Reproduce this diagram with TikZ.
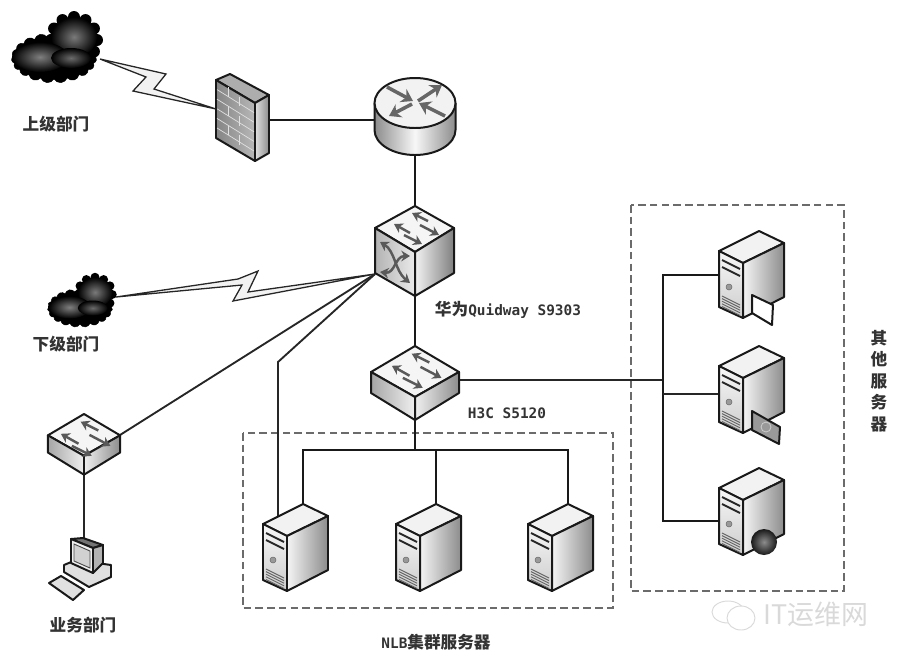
\documentclass[tikz,border=0pt]{standalone}
\usepackage{fontspec}
\setmonofont{DejaVu Sans Mono}
\newfontfamily\cjk{Noto Sans CJK SC}
\newcommand{\lat}[1]{{\ttfamily\fontsize{12.3}{15}\selectfont #1}}
\usetikzlibrary{arrows.meta,shapes.symbols}

\begin{document}
\begin{tikzpicture}[
    x=0.3mm, y=-0.3mm,
    iconbox/.style={rectangle, inner sep=0pt, outer sep=0pt},
    srvbox/.style={iconbox, minimum width=24mm, minimum height=26mm},
    netcloud/.style={cloud, cloud puffs=19, cloud puff arc=130, fill=black, draw=black, inner sep=0pt},
    link/.style={line width=2.4pt, black!90},
    thin link/.style={line width=1.6pt, black!85},
    bolt/.style={draw=black!85, fill=black!5, line width=1.1pt, line join=miter},
    group/.style={draw=black!58, line width=1.8pt, dash pattern=on 6.5pt off 3.5pt},
    lbl/.style={font=\cjk\bfseries\fontsize{14.2}{18.3}\selectfont, text=black!80, inner sep=0pt, align=center},
    edge line/.style={draw=black!90, line width=1.7pt, line join=round},
    swarrow/.style={line width=2.1pt, black!65, -{Stealth[length=2.6mm,width=3.2mm]}},
    rtarrow/.style={line width=3pt, black!60, -{Stealth[length=3.4mm,width=4.4mm]}},
    cloudcore/.pic={
        \foreach \a in {0,30,...,330} {
            \fill[black] ({20+23*cos(\a)},{-18+23*sin(\a)}) circle [radius=6];
        }
        \fill[black] (20,-18) ellipse [x radius=23, y radius=23];
        \shade[inner color=black!52, outer color=black] (20,-21) ellipse [x radius=23, y radius=20];
        \shade[inner color=black!50, outer color=black] (-14,-1) ellipse [x radius=28, y radius=15];
        \shade[inner color=black!58, outer color=black] (17,0) ellipse [x radius=20, y radius=10];
    },
    firewallicon/.pic={
        \path[edge line, fill=black!32] (-26.5,-40) -- (-12.5,-46) -- (26.5,-25) -- (12.5,-17) -- cycle;
        \path[edge line, left color=black!48, right color=black!28] (-26.5,-40) -- (12.5,-17) -- (12.5,41) -- (-26.5,18) -- cycle;
        \path[edge line, left color=black!12, right color=black!45] (12.5,-17) -- (26.5,-25) -- (26.5,33) -- (12.5,41) -- cycle;
        \foreach \c in {1,...,5} {
            \draw[black!12, line width=0.6pt] (-25.5,-40+\c*9.6) -- (11.5,-17+\c*9.6);
        }
        \foreach \c/\u in {0/-14,1/-3,2/-14,3/-3,4/-14,5/-3} {
            \draw[black!12, line width=0.6pt] (\u,-32.9+\c*9.6) -- (\u,-23.3+\c*9.6);
        }
    },
    routericon/.pic={
        \path[edge line, left color=black!45, right color=black!45, middle color=black!3] (-40.5,-17) -- (-40.5,10) .. controls (-40.5,24) and (-22,35) .. (0,35) .. controls (22,35) and (40.5,24) .. (40.5,10) -- (40.5,-17) -- cycle;
        \draw[edge line, fill=black!5] (0,-17) ellipse [x radius=40.5, y radius=25];
        \draw[rtarrow] (-28,-33) -- (-2,-19);
        \draw[rtarrow] (3,-19) -- (27,-35);
        \draw[rtarrow] (-3,-16) -- (-26,-4);
        \draw[rtarrow] (30,-4) -- (4,-17);
    },
    topflows/.pic={
        \draw[swarrow] (13,15) -- (-3,7);
        \draw[swarrow] (-5,27) -- (-21,18);
        \draw[swarrow] (5,19) -- (24,29);
        \draw[swarrow] (-11,29) -- (7,38);
    },
    coreicon/.pic={
        \path[edge line, fill=black!4] (0,0) -- (39,22) -- (0,46) -- (-40,22) -- cycle;
        \path[edge line, left color=black!30, right color=black!8] (-40,22) -- (0,46) -- (0,90) -- (-40,67) -- cycle;
        \path[edge line, left color=black!5, right color=black!50] (0,46) -- (39,22) -- (39,67) -- (0,90) -- cycle;
        \pic {topflows};
        \draw[swarrow, {Stealth[length=2.6mm,width=3.2mm]}-{Stealth[length=2.6mm,width=3.2mm]}] (-35,36) .. controls (-20,45) and (-20,65) .. (-5,77);
        \draw[swarrow, {Stealth[length=2.6mm,width=3.2mm]}-{Stealth[length=2.6mm,width=3.2mm]}] (-35,66) .. controls (-20,68) and (-20,50) .. (-5,50);
    },
    flaticon/.pic={
        \path[edge line, fill=black!4] (0,0) -- (44,26) -- (0,51) -- (-44,26) -- cycle;
        \path[edge line, left color=black!35, right color=black!6] (-44,26) -- (0,51) -- (0,74) -- (-44,47) -- cycle;
        \path[edge line, left color=black!6, right color=black!45] (0,51) -- (44,26) -- (44,47) -- (0,74) -- cycle;
        \pic[scale=1.1] {topflows};
    },
    servericon/.pic={
        \path[edge line, fill=black!5] (0,0) -- (25,12) -- (-16,32) -- (-40,20) -- cycle;
        \path[edge line, top color=black!3, bottom color=black!20] (-40,20) -- (-16,32) -- (-16,87) -- (-40,76) -- cycle;
        \path[edge line, left color=black!4, right color=black!45] (-16,32) -- (25,12) -- (25,66) -- (-16,87) -- cycle;
        \draw[black!85, line width=1.6pt] (-37,29) -- (-19,38);
        \draw[black!85, line width=1.6pt] (-37,36) -- (-19,45);
        \draw[black!60, fill=black!40] (-30,56) circle [radius=3];
        \foreach \c in {0,...,4} {
            \draw[black!60, line width=0.8pt] (-37,65+\c*2.6) -- (-19,74+\c*2.6);
        }
    },
    pcicon/.pic={
        \path[edge line, fill=black!12] (-35,13) -- (-23,6) -- (0,20) -- (-11,30) -- cycle;
        \path[edge line, fill=black!12] (-20,-5) -- (-8,-10) -- (27,-5) -- (27,7) -- (5,17) -- (-20,2) -- cycle;
        \path[edge line, fill=black!55] (-13,-31) -- (-1,-32) -- (19,-25) -- (9,-22) -- cycle;
        \path[edge line, fill=black!30] (9,-22) -- (19,-25) -- (19,-7) -- (9,3) -- cycle;
        \path[edge line, fill=black!6] (-13,-31) -- (9,-22) -- (9,3) -- (-13,-7) -- cycle;
        \path[draw=black!70, fill=black!18, line width=0.8pt] (-10,-26) -- (6,-19) -- (6,-2) -- (-10,-9) -- cycle;
    }
]
\useasboundingbox (0,0) rectangle (900,659);

\node[netcloud, minimum width=25.5mm, minimum height=15mm] (upcloud) at (54,58) {};
\node[netcloud, minimum width=19.5mm, minimum height=11.5mm] (downcloud) at (80,308) {};
\node[iconbox, minimum width=15.9mm, minimum height=24mm] (firewall) at (242.5,120) {};
\node[iconbox, minimum width=24.3mm, minimum height=21mm] (router) at (415,120) {};
\node[iconbox, minimum width=24mm, minimum height=27mm] (core) at (415,251) {};
\node[iconbox, minimum width=26.4mm, minimum height=22.2mm] (access) at (415,383) {};
\node[iconbox, minimum width=21.6mm, minimum height=18.3mm] (deptsw) at (84,444.5) {};
\node[iconbox, minimum width=18mm, minimum height=19.2mm] (deptpc) at (84,570) {};
\node[srvbox, anchor=north] (nlbA) at (303,504) {};
\node[srvbox, anchor=north] (nlbB) at (436,504) {};
\node[srvbox, anchor=north] (nlbC) at (568,504) {};
\node[srvbox, anchor=north] (srvA) at (759,231) {};
\node[srvbox, anchor=north] (srvB) at (759,346) {};
\node[srvbox, anchor=north] (srvC) at (759,468) {};

\coordinate (upport) at (100,59);
\coordinate (fwport) at (216,109);
\coordinate (downport) at (116,297);
\coordinate (coreport) at (375,274);
\coordinate (deptport) at (120,435);
\coordinate (fanbend) at (278,362);
\coordinate (nlbport) at (278,517);
\coordinate (nlbbus) at (415,450);
\coordinate (srvbus) at (663,380);
\coordinate (busA) at (663,275);
\coordinate (busB) at (663,394);
\coordinate (busC) at (663,521);

% dashed groups
\draw[group] (243,433) rectangle (613,608);
\draw[group] (631,205) rectangle (844,591);

% links
\draw[bolt] (upport) -- (166,74) -- (154,89) -- (fwport) -- (133,91) -- (146,77) -- cycle;
\draw[bolt] (downport) -- (238,279) -- (258,271) -- (248,292) -- (coreport) -- (233,301) -- (242,285) -- cycle;
\draw[link] (firewall) -- (router);
\draw[link] (router.south) -- (core.north);
\draw[link] (core.south) -- (access.north);
\draw[link] (access.south) -- (nlbbus);
\draw[link] (nlbA.north) |- (nlbbus);
\draw[link] (nlbC.north) |- (nlbbus);
\draw[link] (nlbB.north) -- (nlbB.north |- nlbbus);
\draw[thin link] (coreport) -- (deptport);
\draw[thin link] (coreport) -- (fanbend) -- (nlbport);
\draw[thin link] (deptsw.south) -- (deptpc.north);
\draw[thin link] (access.east |- srvbus) -- (srvbus);
\draw[link] (busA -| srvA.west) -- (busA) -- (busC) -- (busC -| srvC.west);
\draw[thin link] (busB) -- (busB -| srvB.west);

% icons
\pic at (upcloud) {cloudcore};
\pic[scale=.75] at (downcloud) {cloudcore};
\pic at (firewall) {firewallicon};
\pic at (router) {routericon};
\pic at (core.north) {coreicon};
\pic at (access.north) {flaticon};
\pic[scale=.82] at (deptsw.north) {flaticon};
\pic at (deptpc) {pcicon};
\foreach \s in {nlbA,nlbB,nlbC,srvA,srvB,srvC} {
    \pic at (\s.north) {servericon};
}
% server badges
\draw[edge line, fill=white] (752,295) -- (773,305) -- (772,325) -- (752,313) -- cycle;
\draw[edge line, fill=black!40] (752,411) -- (780,427) -- (779,444) -- (752,430) -- cycle;
\draw[black!20, line width=0.7pt] (766,427) circle [radius=5];
\shade[inner color=black!45, outer color=black!90] (764,542) circle [radius=13];

% labels
\node[lbl] (uplabel) at (56,124) {上级部门};
\node[lbl] (downlabel) at (66,344) {下级部门};
\node[lbl] (deptlabel) at (83,625) {业务部门};
\node[lbl] (corelabel) at (508,310) {华为\lat{Quidway S9303}};
\node[lbl] (accesslabel) at (507,413) {\lat{H3C S5120}};
\node[lbl] (nlblabel) at (436,642) {\lat{NLB}集群服务器};
\node[lbl] (srvlabel) at (879,381) {其\\他\\服\\务\\器};

% watermark
\draw[black!15, line width=0.8pt] (728,612) ellipse [x radius=16, y radius=11];
\draw[black!15, line width=0.8pt, fill=white] (741,618) ellipse [x radius=14, y radius=12];
\node[lbl, font=\cjk\fontsize{23}{25}\selectfont, text=black!15] (mark) at (816,614) {IT运维网};
\end{tikzpicture}
\end{document}
